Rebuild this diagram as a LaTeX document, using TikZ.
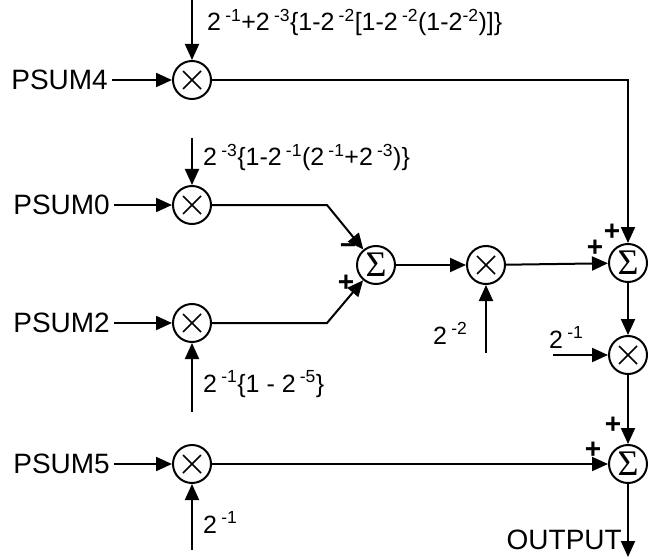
\documentclass[tikz,border=0pt]{standalone}
\usepackage{fontspec}
\setmainfont{Liberation Sans}
\newfontfamily\sigmafont{Liberation Serif}
\usetikzlibrary{arrows.meta}

\tikzset{
  mult/.style={draw, circle, line width=2pt, minimum size=38pt, inner sep=0pt,
    path picture={\draw[line width=1.6pt] (path picture bounding box.center) +(-9pt,-9pt) -- +(9pt,9pt)
      (path picture bounding box.center) +(-9pt,9pt) -- +(9pt,-9pt);}},
  adder/.style={draw, circle, line width=2pt, minimum size=38pt, inner sep=0pt,
    font=\sigmafont\fontsize{36}{36}\selectfont},
  sig/.style={-{Triangle[length=16pt,width=14pt]}, line width=2pt},
  lbl/.style={font=\fontsize{25}{28}\selectfont, inner sep=0pt},
  src/.style={font=\fontsize{28}{30}\selectfont, inner sep=0pt},
  sgn/.style={font=\bfseries\fontsize{28}{28}\selectfont, inner sep=0pt},
}
\newcommand{\pw}[1]{\,\textsuperscript{#1}}

\begin{document}
\begin{tikzpicture}[x=1pt,y=-1pt]
\useasboundingbox (0,0) rectangle (648,559);

% multipliers and adders
\node[mult] (m4) at (192,80) {};
\node[mult] (m0) at (192,205) {};
\node[mult] (m2) at (192,323) {};
\node[mult] (m5) at (192,464) {};
\node[adder] (s1) at (376,265) {Σ};
\node[mult] (m3) at (486,265) {};
\node[adder] (s2) at (628,263) {Σ};
\node[mult] (m6) at (628,355) {};
\node[adder] (s3) at (628,464) {Σ};

% inputs
\node[src, anchor=east] (p4) at (108,80) {PSUM4};
\node[src, anchor=east] (p0) at (110,205) {PSUM0};
\node[src, anchor=east] (p2) at (110,323) {PSUM2};
\node[src, anchor=east] (p5) at (110,464) {PSUM5};

% coefficients
\node[lbl, anchor=base west] (k4) at (207,31)
  {2\pw{-1}+2\pw{-3}\{1-2\pw{-2}[1-2\pw{-2}(1-2\textsuperscript{-2})]\}};
\node[lbl, anchor=base west] (k0) at (203,166)
  {2\pw{-3}\{1-2\pw{-1}(2\pw{-1}+2\pw{-3})\}};
\node[lbl, anchor=base west] (k2) at (203,392) {2\pw{-1}\{1 - 2\pw{-5}\}};
\node[lbl, anchor=base west] (k3) at (433,344) {2\pw{-2}};
\node[lbl, anchor=base west] (k6) at (549,348) {2\pw{-1}};
\node[lbl, anchor=base west] (k5) at (203,533) {2\pw{-1}};
\node[src, anchor=base east] (out) at (622,549) {OUTPUT};

\coordinate (c4) at (192,0);
\coordinate (c0) at (192,138);
\coordinate (c2) at (192,412);
\coordinate (c5) at (192,550);
\coordinate (c3) at (486,353);
\coordinate (c6) at (553,355);
\coordinate (b0) at (327,205);
\coordinate (b2) at (327,323);
\coordinate (e) at (628,557);

\draw[sig] (c4) -- (m4);
\draw[sig] (c0) -- (m0);
\draw[sig] (c2) -- (m2);
\draw[sig] (c5) -- (m5);
\draw[sig] (c3) -- (m3);
\draw[sig] (c6) -- (m6);

\draw[sig] ([xshift=4pt]p4.east) -- (m4);
\draw[sig] ([xshift=4pt]p0.east) -- (m0);
\draw[sig] ([xshift=4pt]p2.east) -- (m2);
\draw[sig] ([xshift=4pt]p5.east) -- (m5);

\draw[sig] (m4) -| (s2);
\draw[sig] (m0) -- (b0) -- (s1);
\draw[sig] (m2) -- (b2) -- (s1);
\draw[sig] (s1) -- (m3);
\draw[sig] (m3) -- (s2);
\draw[sig] (s2) -- (m6);
\draw[sig] (m6) -- (s3);
\draw[sig] (m5) -- (s3);
\draw[sig] (s3) -- (e);

% signs
\node[sgn] (g1) at (348,249) {−};
\node[sgn] (g2) at (346,283) {+};
\node[sgn] (g3) at (612,232) {+};
\node[sgn] (g4) at (595,248) {+};
\node[sgn] (g5) at (613,425) {+};
\node[sgn] (g6) at (593,450) {+};
\end{tikzpicture}
\end{document}
